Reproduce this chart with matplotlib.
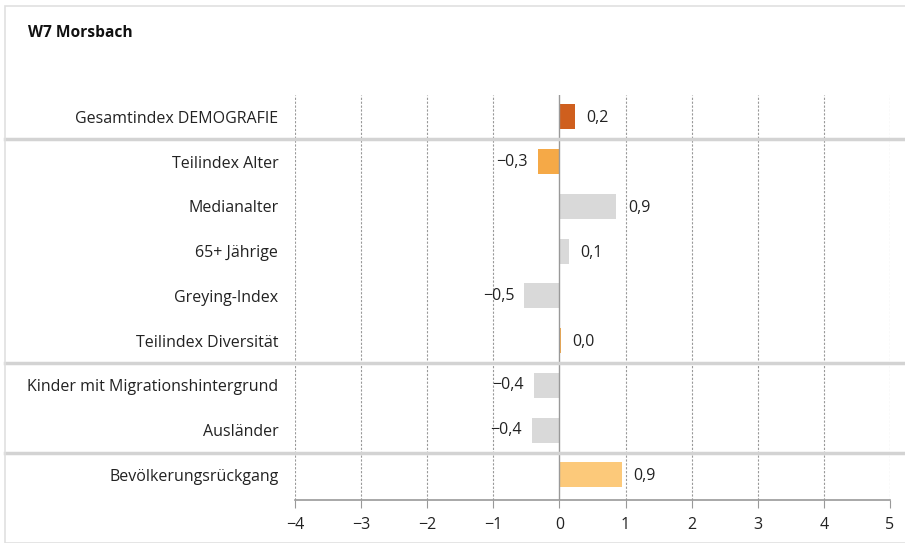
import matplotlib
matplotlib.use("Agg")
import matplotlib.pyplot as plt
from matplotlib.transforms import blended_transform_factory
from matplotlib.patches import Rectangle

title = "W7 Morsbach"
categories = ["Gesamtindex DEMOGRAFIE", "Teilindex Alter", "Medianalter", "65+ Jährige",
              "Greying-Index", "Teilindex Diversität", "Kinder mit Migrationshintergrund",
              "Ausländer", "Bevölkerungsrückgang"]
values = [0.23, -0.33, 0.86, 0.14, -0.53, 0.02, -0.39, -0.42, 0.94]
labels = ["0,2", "\u22120,3", "0,9", "0,1", "\u22120,5", "0,0", "\u22120,4", "\u22120,4", "0,9"]
colors = ["#CF5F1E", "#F5A947", "#D9D9D9", "#D9D9D9", "#D9D9D9", "#F5A947",
          "#D9D9D9", "#D9D9D9", "#FCC97A"]
separators = [0.5, 5.5, 7.5]
xticks = [-4, -3, -2, -1, 0, 1, 2, 3, 4, 5]
xticklabels = ["\u22124", "\u22123", "\u22122", "\u22121", "0", "1", "2", "3", "4", "5"]

plt.rcParams['font.family'] = ['Open Sans', 'DejaVu Sans']
FS = 11.5

fig = plt.figure(figsize=(9.05, 5.43), dpi=100)
ax = fig.add_axes([295/905, 1-500/543, (890-295)/905, (500-95)/543])

y = list(range(len(categories)))
ax.barh(y, values, height=0.56, color=colors, zorder=3)
ax.set_xlim(-4, 5)
ax.set_ylim(8.56, -0.49)

for yi, v, lab in zip(y, values, labels):
    if v >= 0:
        ax.annotate(lab, (v, yi), xytext=(8.5, -1), textcoords="offset points",
                    ha="left", va="center", fontsize=FS, color="#222222")
    else:
        ax.annotate(lab, (v, yi), xytext=(-7, 0), textcoords="offset points",
                    ha="right", va="center", fontsize=FS, color="#222222")

ax.set_yticks(y)
ax.set_yticklabels(categories, fontsize=FS, color="#222222")
ax.tick_params(axis="y", length=0, pad=12)
ax.set_xticks(xticks)
ax.set_xticklabels(xticklabels, fontsize=FS, color="#222222")
ax.tick_params(axis="x", length=6, color="#999999", pad=6, direction="out")

for t in xticks:
    if t == 0:
        ax.axvline(t, color="#999999", lw=1.0, zorder=4)
    else:
        ax.axvline(t, color="#999999", lw=0.8, ls=(0, (2, 1.5)), zorder=1)

for s in ["top", "right", "left"]:
    ax.spines[s].set_visible(False)
ax.spines["bottom"].set_color("#999999")
ax.spines["bottom"].set_linewidth(1.2)

trans = blended_transform_factory(fig.transFigure, ax.transData)
for s in separators:
    ax.plot([5/905, 1.0], [s, s], transform=trans, color="#D3D3D3", lw=2.5,
            clip_on=False, zorder=5)

fig.text(28/905, 1-33/543, title, fontsize=11.2, fontweight="bold",
         ha="left", va="center", color="#111111")

fig.patches.append(Rectangle((5/905, 0), 1.0, 1-6/543, transform=fig.transFigure,
                             fill=False, edgecolor="#E0E0E0", lw=1.2))

fig.savefig("out.png", dpi=100)
